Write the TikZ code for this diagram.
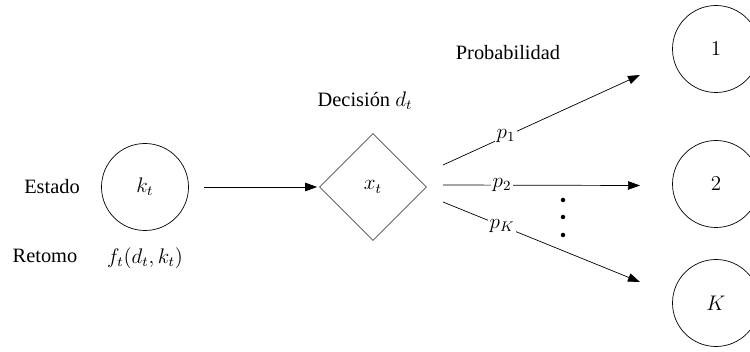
\documentclass[tikz,border=0pt]{standalone}
\usepackage{amsmath}
\usepackage{fontspec}
\setmainfont{Liberation Serif}
\usepackage{tikz}
\usetikzlibrary{arrows.meta, positioning, shapes.geometric, calc}

\begin{document}
\begin{tikzpicture}[every node/.style={font=\fontsize{11.6}{14}\selectfont}]
            \useasboundingbox (0,0) rectangle (15,7.04);
            \node[circle, draw, minimum size=1.74cm, inner sep=0pt] (k) at (2.9,3.3) {$k_t$};
            \node[diamond, draw=black!70, aspect=1, minimum size=2.14cm, inner sep=0pt] (x) at (7.46,3.3) {$x_t$};
            \node[circle, draw, minimum size=1.74cm, inner sep=0pt] (e1) at (14.32,6.06) {$1$};
            \node[circle, draw, minimum size=1.74cm, inner sep=0pt] (e2) at (14.32,3.36) {$2$};
            \node[circle, draw, minimum size=1.74cm, inner sep=0pt] (eK) at (14.32,0.98) {$K$};
            \node (estado) at (1.04,3.3) {Estado};
            \node (retomo) at (0.9,1.92) {Retomo};
            \node (ret) at (2.9,1.88) {$f_t(d_t,k_t)$};
            \node (dec) at (7.3,5.02) {Decisión $d_t$};
            \node (prob) at (10.16,5.98) {Probabilidad};
            \coordinate (a1) at (8.86,3.74);
            \coordinate (a2) at (8.86,3.34);
            \coordinate (a3) at (8.86,3.0);
            \coordinate (b1) at (12.8,5.54);
            \coordinate (b2) at (12.8,3.33);
            \coordinate (b3) at (12.8,1.4);
            \draw[-{Triangle[length=2.4mm, width=1.7mm]}, thin, shorten <=0.3cm, shorten >=0.04cm] (k) -- (x);
            \draw[-{Triangle[length=2.4mm, width=1.7mm]}, thin] (a1) -- node[pos=0.32, fill=white, inner sep=1pt] {$p_1$} (b1);
            \draw[-{Triangle[length=2.4mm, width=1.7mm]}, thin] (a2) -- node[pos=0.3, fill=white, inner sep=1pt] {$p_2$} (b2);
            \draw[-{Triangle[length=2.4mm, width=1.7mm]}, thin] (a3) -- node[pos=0.3, fill=white, inner sep=1pt] {$p_K$} (b3);
            \foreach \y in {3.04,2.7,2.34}
                \fill (11.26,\y) circle (0.045);
        \end{tikzpicture}
\end{document}
